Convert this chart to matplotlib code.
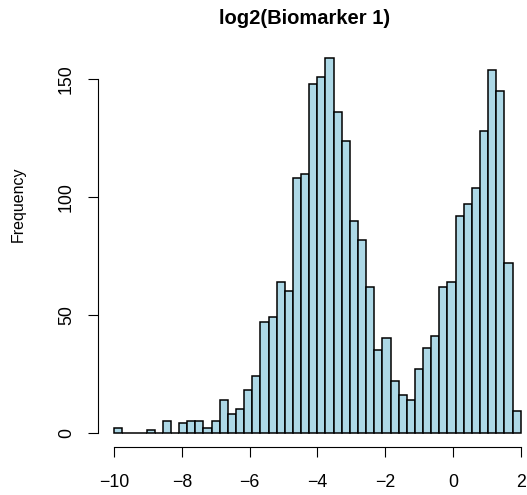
import numpy as np
import matplotlib
matplotlib.use('Agg')
import matplotlib.pyplot as plt

plt.rcParams['font.family'] = ['Liberation Sans', 'DejaVu Sans']

# histogram of log2(Biomarker 1): 50 equal bins between -10 and 2
bin_lo, bin_hi, n_bins = -10, 2, 50
counts = [2, 0, 0, 0, 1, 0, 5, 0, 4, 5,
          5, 2, 5, 14, 8, 10, 18, 24, 47, 49,
          64, 60, 108, 110, 148, 151, 159, 136, 124, 90,
          82, 62, 35, 40, 22, 16, 14, 27, 36, 41,
          62, 64, 92, 97, 104, 128, 154, 145, 72, 9]
x_ticks = [-10, -8, -6, -4, -2, 0, 2]
y_ticks = [0, 50, 100, 150]
title = 'log2(Biomarker 1)'
ylab = 'Frequency'

edges = np.linspace(bin_lo, bin_hi, n_bins + 1)

W, H = 527, 495
fig = plt.figure(figsize=(W / 100, H / 100), dpi=100)
# plot region in pixels
left, right, top, bottom = 97.5, 527, 43, 447
ax = fig.add_axes([left / W, 1 - bottom / H, (right - left) / W, (bottom - top) / H])

ax.bar(edges[:-1], counts, width=np.diff(edges), align='edge',
       color='#ADD8E6', edgecolor='black', linewidth=1.1)

ax.set_xlim(-10.486, 2.186)
ax.set_ylim(-6.16, 165.5)

for s in ['top', 'right']:
    ax.spines[s].set_visible(False)
ax.spines['left'].set_bounds(0, 150)
ax.spines['bottom'].set_bounds(-10, 2)
ax.spines['left'].set_linewidth(0.8)
ax.spines['bottom'].set_linewidth(0.8)

ax.set_xticks(x_ticks)
ax.set_yticks(y_ticks)
ax.tick_params(length=7.2, width=0.8, labelsize=12.8, color='black')
ax.tick_params(axis='x', pad=12)
ax.tick_params(axis='y', pad=9, labelrotation=90)
for lab in ax.get_yticklabels():
    lab.set_va('center')

fig.text(305 / W, 1 - 18 / H, title, ha='center', va='center',
         fontsize=14.5, fontweight='bold')
fig.text(18 / W, 1 - 204 / H, ylab, ha='center', va='center',
         rotation=90, fontsize=11.5)

fig.savefig('out.png', dpi=100)
